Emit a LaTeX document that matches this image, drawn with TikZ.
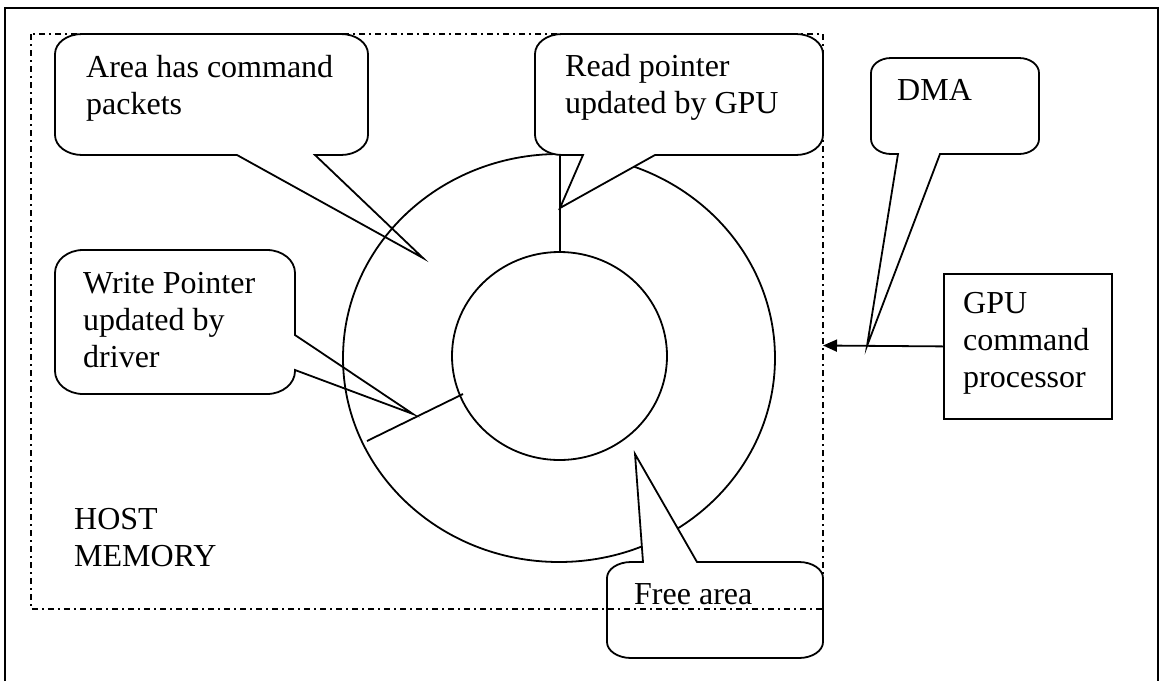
\documentclass[tikz,border=0pt]{standalone}
\usepackage{fontspec}
\setmainfont{Liberation Serif}
\usetikzlibrary{arrows.meta}
\newcommand\bubble[6]{%
  \pgfmathsetmacro\Lx{#1+#5}\pgfmathsetmacro\Rx{#3-#5}%
  \pgfmathsetmacro\Ty{#2+#6}\pgfmathsetmacro\By{#4-#6}%
  \pgfmathsetmacro\kx{0.552*#5}\pgfmathsetmacro\ky{0.552*#6}%
  \draw[bub] (\Lx,#2) \tT -- (\Rx,#2) .. controls +(\kx,0) and +(0,-\ky) .. (#3,\Ty) \tR
    -- (#3,\By) .. controls +(0,\ky) and +(\kx,0) .. (\Rx,#4) \tB
    -- (\Lx,#4) .. controls +(-\kx,0) and +(0,\ky) .. (#1,\By) \tL
    -- (#1,\Ty) .. controls +(0,-\ky) and +(-\kx,0) .. (\Lx,#2) -- cycle;}
\begin{document}
\begin{tikzpicture}[x=1pt,y=-1pt,
  ln/.style={line width=1.8pt, line join=miter},
  bub/.style={ln, fill=white},
  txt/.style={anchor=base west, inner sep=0pt, font=\fontsize{32}{37}\selectfont},
  dashdot/.style={line width=1.5pt, dash pattern=on 6pt off 4pt on 2pt off 4pt}]
\useasboundingbox[fill=white] (0,0) rectangle (1160,681);
% outer frame
\draw[line width=2pt] (5,681) -- (5,8) -- (1158,8) -- (1158,681);
% bubbles behind the ring
\def\tT{}\def\tR{}\def\tL{}
\def\tB{-- (315,155) -- (423,258) -- (237,155)}
\bubble{55}{34}{368}{155}{27}{20}
\def\tB{}\def\tR{-- (295,335) -- (413,414) -- (295,370)}
\bubble{55}{250}{295}{394}{28}{23}
% ring
\draw[ln] (559,358) ellipse [x radius=216, y radius=204];
\draw[ln] (559.5,356) ellipse [x radius=107.5, y radius=104];
\coordinate (rp1) at (560,154);
\coordinate (rp2) at (560,252);
\draw[ln] (rp1) -- (rp2);
\coordinate (wp1) at (367,441);
\coordinate (wp2) at (463,394);
\draw[ln] (wp1) -- (wp2);
% bubbles in front
\def\tR{}\def\tB{-- (655,155) -- (560,208) -- (583,155)}
\bubble{535}{34}{823}{155}{27}{20}
\def\tB{}\def\tT{-- (643,562) -- (635,454) -- (697,562)}
\bubble{607}{562}{823}{658}{24}{16}
\def\tT{}\def\tB{-- (940,154) -- (867,346) -- (898,154)}
\bubble{871}{58}{1039}{154}{20}{15}
% GPU box and arrow
\node[ln, draw, fill=white, minimum width=168pt, minimum height=145pt, anchor=north west, inner sep=0pt] (gpu) at (943,273) {};
\coordinate (hm) at (823,345.5);
\draw[ln, -{Triangle[length=14pt,width=12pt]}] (gpu.west) -- (hm);
% host memory boundary
\draw[dashdot] (31,34) rectangle (823,609);
% texts
\node[txt] (t1) at (86,77) {\begin{tabular}[t]{@{}l@{}}Area has command\\packets\end{tabular}};
\node[txt] (t2) at (565,76) {\begin{tabular}[t]{@{}l@{}}Read pointer\\updated by GPU\end{tabular}};
\node[txt] (t3) at (897,100) {DMA};
\node[txt] (t4) at (83,293) {\begin{tabular}[t]{@{}l@{}}Write Pointer\\updated by\\driver\end{tabular}};
\node[txt] (t5) at (963,313) {\begin{tabular}[t]{@{}l@{}}GPU\\command\\processor\end{tabular}};
\node[txt] (t6) at (74,529) {\begin{tabular}[t]{@{}l@{}}HOST\\MEMORY\end{tabular}};
\node[txt] (t7) at (634,604) {Free area};
\end{tikzpicture}
\end{document}
